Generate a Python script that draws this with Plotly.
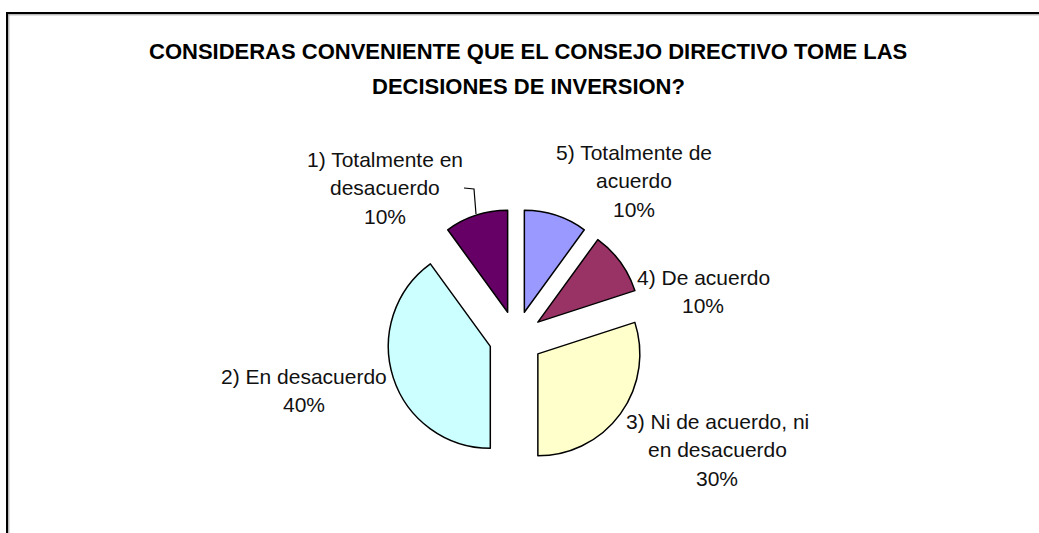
import plotly.graph_objects as go

W, H = 1039, 533

# data (clockwise from 12 o'clock)
labels = ["5) Totalmente de acuerdo", "4) De acuerdo",
          "3) Ni de acuerdo, ni en desacuerdo", "2) En desacuerdo",
          "1) Totalmente en desacuerdo"]
values = [10, 10, 30, 40, 10]
colors = ["#9999FF", "#993366", "#FFFFCC", "#CCFFFF", "#660066"]

# how each data label is broken into lines
label_lines = [
    ["5) Totalmente de", "acuerdo"],
    ["4) De acuerdo"],
    ["3) Ni de acuerdo, ni", "en desacuerdo"],
    ["2) En desacuerdo"],
    ["1) Totalmente en", "desacuerdo"],
]
title_lines = ["CONSIDERAS CONVENIENTE QUE EL CONSEJO DIRECTIVO TOME LAS",
               "DECISIONES DE INVERSION?"]

# label anchor (centre x, first line y) in pixels
label_pos = [(634, 152), (703, 277), (717, 421), (304, 376), (385, 159)]
line_gap = 28.8


def px(x):
    return x / W


def py(y):
    return 1 - y / H


total = sum(values)

fig = go.Figure()
fig.add_trace(go.Pie(
    labels=labels,
    values=values,
    sort=False,
    direction="clockwise",
    rotation=0,
    pull=[0.265] * len(values),
    marker=dict(colors=colors, line=dict(color="#000000", width=1.5)),
    textinfo="none",
    hoverinfo="label+percent",
    domain=dict(x=[px(516 - 129), px(516 + 129)],
                y=[py(338 + 129), py(338 - 129)]),
    showlegend=False,
))

annotations = []
for i, lines in enumerate(label_lines):
    pct = f"{round(values[i] / total * 100)}%"
    x0, y0 = label_pos[i]
    for k, txt in enumerate(lines + [pct]):
        annotations.append(dict(
            text=txt, xref="paper", yref="paper",
            x=px(x0), y=py(y0 + k * line_gap),
            xanchor="center", yanchor="middle", showarrow=False,
            font=dict(family="Liberation Sans, Arial", size=21, color="#111111"),
        ))

for k, txt in enumerate(title_lines):
    annotations.append(dict(
        text=f"<b>{txt}</b>", xref="paper", yref="paper",
        x=px(528), y=py(52 + k * 34),
        xanchor="center", yanchor="middle", showarrow=False,
        font=dict(family="Liberation Sans, Arial", size=22, color="#000000"),
    ))

shapes = [
    # chart area frame (only top and left edges are visible)
    dict(type="line", xref="paper", yref="paper", x0=px(6), x1=px(W + 5),
         y0=py(13), y1=py(13), line=dict(color="#000000", width=2)),
    dict(type="line", xref="paper", yref="paper", x0=px(8), x1=px(W + 5),
         y0=py(14.8), y1=py(14.8), line=dict(color="#9a9a9a", width=1)),
    dict(type="line", xref="paper", yref="paper", x0=px(7), x1=px(7),
         y0=py(12), y1=py(H + 5), line=dict(color="#000000", width=2)),
    dict(type="line", xref="paper", yref="paper", x0=px(8.8), x1=px(8.8),
         y0=py(14), y1=py(H + 5), line=dict(color="#9a9a9a", width=1)),
    # leader line for label 1)
    dict(type="path", xref="paper", yref="paper",
         path=f"M {px(464)},{py(188)} L {px(474)},{py(189)} L {px(476)},{py(214)}",
         line=dict(color="#000000", width=1.2)),
]

fig.update_layout(
    width=W, height=H,
    margin=dict(l=0, r=0, t=0, b=0),
    paper_bgcolor="#ffffff",
    plot_bgcolor="#ffffff",
    annotations=annotations,
    shapes=shapes,
)

# drop the default page margin so the figure sits at the window origin
fig.write_html("out.html", config={"displayModeBar": False}, post_script=(
    "document.body.style.margin='0';"
    "document.body.style.overflow='hidden';"))
